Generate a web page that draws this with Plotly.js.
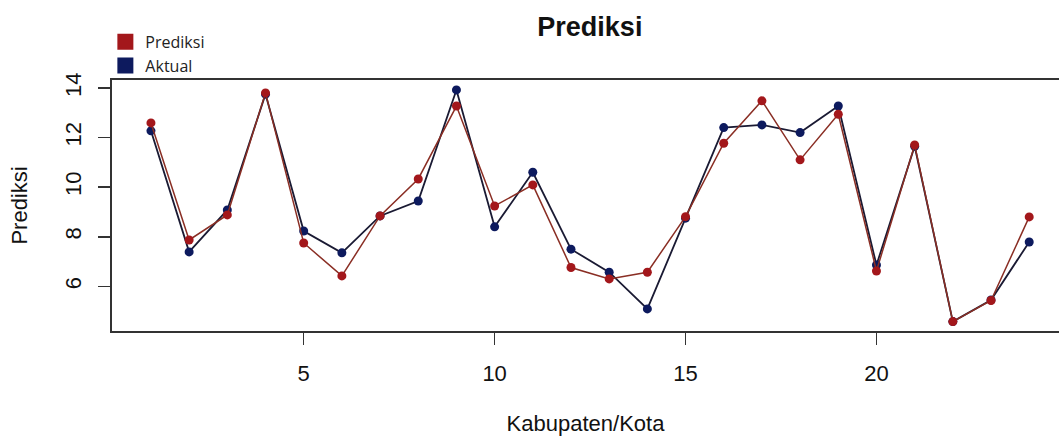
<!DOCTYPE html>
<html>
<head>
<meta charset="utf-8">
<script src="https://cdn.plot.ly/plotly-3.0.1.min.js"></script>
<style>html,body{margin:0;padding:0;background:#fff;}#chart{width:1059px;height:436px;}</style>
</head>
<body>
<div id="chart"></div>
<script>
const kabupaten = [1,2,3,4,5,6,7,8,9,10,11,12,13,14,15,16,17,18,19,20,21,22,23,24];
const prediksi = [12.59,7.87,8.88,13.80,7.75,6.42,8.84,10.33,13.27,9.24,10.09,6.76,6.30,6.57,8.81,11.77,13.48,11.10,12.94,6.62,11.70,4.58,5.43,8.80];
const aktual   = [12.27,7.39,9.08,13.75,8.23,7.35,8.84,9.44,13.92,8.40,10.60,7.50,6.57,5.09,8.75,12.40,12.51,12.20,13.27,6.86,11.65,4.58,5.45,7.79];
const xTicks = [5,10,15,20];
const yTicks = [6,8,10,12,14];

const redMarker = '#a3171b';
const blueMarker = '#0d1a5e';
const font = 'Liberation Sans, Arial, sans-serif';

const traces = [
  {x: kabupaten, y: aktual, mode: 'lines+markers', showlegend: false,
   line: {color: '#1a1a33', width: 1.8}, marker: {color: blueMarker, size: 9}},
  {x: kabupaten, y: prediksi, mode: 'lines+markers', showlegend: false,
   line: {color: '#8a2e24', width: 1.5}, marker: {color: redMarker, size: 9}},
  {x: [null], y: [null], mode: 'markers', name: 'Prediksi',
   marker: {symbol: 'square', color: redMarker, size: 16}},
  {x: [null], y: [null], mode: 'markers', name: 'Aktual',
   marker: {symbol: 'square', color: blueMarker, size: 16}}
];

const layout = {
  width: 1059, height: 436,
  margin: {l: 112, r: 0, t: 80, b: 105, autoexpand: false},
  paper_bgcolor: '#fff', plot_bgcolor: '#fff',
  font: {family: font, color: '#111', size: 22},
  title: {text: '<b>Prediksi</b>', x: 0.557, xanchor: 'center', yref: 'container', y: 0.94, yanchor: 'middle',
          font: {family: font, size: 27, color: '#111'}},
  showlegend: true,
  legend: {x: -0.007, xanchor: 'left', y: 1.22, yanchor: 'top',
           font: {family: 'Open Sans, sans-serif', size: 16, color: '#222'},
           bgcolor: 'rgba(0,0,0,0)', tracegroupgap: 0, itemwidth: 30},
  xaxis: {range: [-0.02, 24.78], tickvals: xTicks, ticktext: xTicks.map(String),
          showgrid: false, zeroline: false, showline: true, mirror: true,
          linecolor: '#333', linewidth: 2, ticks: 'outside', ticklen: 12, tickwidth: 1.5,
          tickcolor: '#333', ticklabelstandoff: 10, tickfont: {family: font, size: 22, color: '#111'},
          title: {text: 'Kabupaten/Kota', font: {family: font, size: 22, color: '#111'}, standoff: 39}},
  yaxis: {range: [4.2, 14.32], tickvals: yTicks, ticktext: yTicks.map(String),
          showgrid: false, zeroline: false, showline: true, mirror: true,
          linecolor: '#333', linewidth: 2, ticks: 'outside', ticklen: 12, tickwidth: 1.5,
          tickcolor: '#333', tickangle: -90, ticklabelstandoff: 8, tickfont: {family: font, size: 22, color: '#111'},
          title: {text: 'Prediksi', font: {family: font, size: 22, color: '#111'}, standoff: 28}}
};

Plotly.newPlot('chart', traces, layout, {displayModeBar: false, staticPlot: true});
</script>
</body>
</html>
